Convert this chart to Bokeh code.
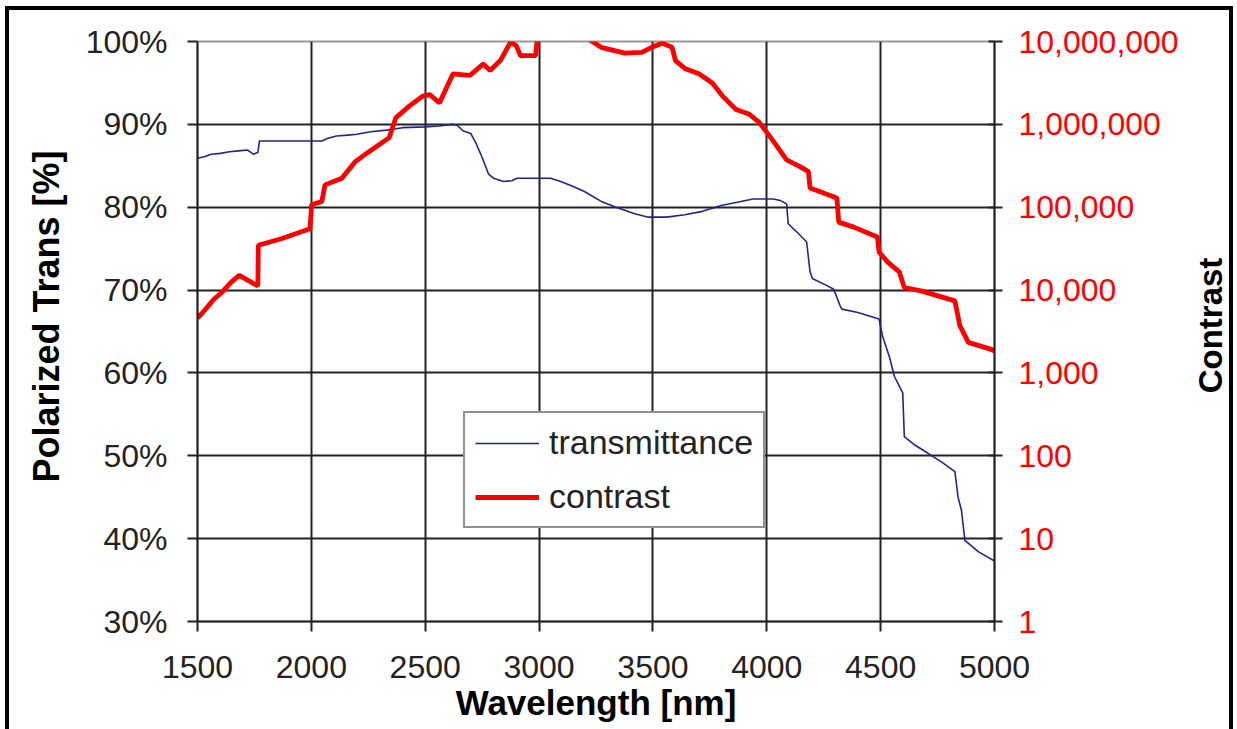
import math
from bokeh.plotting import figure
from bokeh.models import (Range1d, LogScale, LogAxis, FixedTicker, PrintfTickFormatter,
                          NumeralTickFormatter, Legend, LegendItem, Label)
from bokeh.embed import file_html
from bokeh.resources import INLINE

# ---------------- data ----------------
x_ticks = [1500, 2000, 2500, 3000, 3500, 4000, 4500, 5000]
pct_ticks = [30, 40, 50, 60, 70, 80, 90, 100]
contrast_ticks = [1, 10, 100, 1000, 10000, 100000, 1000000, 10000000]

trans_nm = [1500, 1530, 1560, 1600, 1640, 1680, 1720, 1745, 1765, 1772, 1850, 1950, 2046,
            2070, 2110, 2160, 2200, 2260, 2330, 2400, 2500, 2560, 2620, 2640, 2667, 2700,
            2725, 2750, 2778, 2800, 2844, 2880, 2903, 3000, 3051, 3095, 3150, 3199, 3273,
            3347, 3420, 3480, 3560, 3640, 3717, 3800, 3870, 3939, 4028, 4060, 4087, 4094,
            4140, 4175, 4190, 4200, 4260, 4294, 4322, 4330, 4400, 4471, 4493, 4508, 4540,
            4560, 4597, 4604, 4650, 4708, 4770, 4826, 4840, 4855, 4870, 4930, 5000]
trans_pct = [85.9, 86.1, 86.4, 86.5, 86.7, 86.8, 86.9, 86.4, 86.6, 88.0, 88.0, 88.0, 88.0,
             88.3, 88.6, 88.7, 88.8, 89.1, 89.3, 89.6, 89.7, 89.8, 90.0, 89.9, 89.2, 88.9,
             87.6, 86.0, 84.0, 83.5, 83.1, 83.2, 83.5, 83.5, 83.5, 83.1, 82.5, 81.9, 80.7,
             79.9, 79.2, 78.8, 78.8, 79.1, 79.5, 80.2, 80.6, 81.0, 81.0, 80.8, 80.4, 78.0,
             76.8, 75.8, 72.2, 71.4, 70.6, 70.1, 68.1, 67.7, 67.3, 66.7, 66.5, 64.5, 61.8,
             59.6, 57.6, 52.3, 51.3, 50.3, 49.2, 48.1, 45.0, 43.4, 39.8, 38.4, 37.3]

contrast_nm = [1500, 1520, 1572, 1610, 1646, 1683, 1720, 1765, 1767, 1868, 1994, 2001, 2046,
               2060, 2134, 2193, 2253, 2342, 2371, 2430, 2489, 2520, 2563, 2622, 2696, 2755,
               2785, 2830, 2874, 2900, 2918, 2985, 2991, 3020, 3100, 3200, 3229, 3273, 3377,
               3451, 3495, 3540, 3584, 3599, 3643, 3702, 3761, 3806, 3865, 3924, 3968, 4028,
               4087, 4146, 4183, 4190, 4308, 4316, 4382, 4486, 4493, 4530, 4582, 4604, 4678,
               4826, 4848, 4885, 4989, 5000]
contrast_val = [4600, 5250, 7760, 9550, 12300, 15100, 13200, 11200, 34700, 41700, 55000,
                107000, 117000, 186000, 224000, 355000, 468000, 692000, 1200000, 1660000,
                2190000, 2290000, 1820000, 4070000, 3890000, 5370000, 4470000, 5890000,
                9770000, 8910000, 6760000, 6760000, 10000000, 12000000, 13200000, 11500000,
                10200000, 8510000, 7240000, 7410000, 8510000, 9550000, 8510000, 5890000,
                4680000, 4070000, 3160000, 2190000, 1510000, 1320000, 1050000, 631000,
                372000, 309000, 269000, 170000, 129000, 66100, 57500, 43700, 28800, 21900,
                16600, 10700, 9770, 7410, 3720, 2340, 1910, 1820]

x_title = "Wavelength [nm]"
left_title = "Polarized Trans [%]"
right_title = "Contrast"

FONT = "Liberation Sans"
INK = "#222222"
NBSP = "\u00a0"

p = figure(width=1228, height=723, x_range=Range1d(1500, 5000), y_range=Range1d(30, 100),
           output_backend="svg", toolbar_location=None,
           min_border_left=188, min_border_right=243, min_border_top=31, min_border_bottom=112)
p.extra_y_ranges = {"contrast": Range1d(1, 1e7)}
p.extra_y_scales = {"contrast": LogScale()}

p.styles = {"border-left": "4px solid black", "border-top": "4px solid black",
            "border-right": "4px solid black", "margin-left": "5px", "margin-top": "6px"}

p.outline_line_color = "#999999"
p.outline_line_width = 2
p.background_fill_color = "white"
p.border_fill_color = "white"

# grids
p.xgrid.ticker = FixedTicker(ticks=x_ticks)
p.ygrid.ticker = FixedTicker(ticks=pct_ticks)
for g in (p.xgrid, p.ygrid):
    g.grid_line_color = INK
    g.grid_line_width = 2

# x axis
xa = p.xaxis[0]
xa.ticker = FixedTicker(ticks=x_ticks)
xa.axis_label = x_title
# left axis
ya = p.yaxis[0]
ya.ticker = FixedTicker(ticks=pct_ticks)
ya.formatter = PrintfTickFormatter(format="%d%%")
# leading no-break spaces nudge the centred title slightly upward, as in the reference
ya.axis_label = NBSP * 3 + left_title

# right axis (ticks only; its title is a rotated label below)
ra = LogAxis(y_range_name="contrast", ticker=FixedTicker(ticks=contrast_ticks),
             formatter=NumeralTickFormatter(format="0,0"))
p.add_layout(ra, "right")

for ax in (xa, ya, ra):
    ax.axis_line_color = INK
    ax.axis_line_width = 2
    ax.major_tick_line_color = INK
    ax.major_tick_line_width = 2
    ax.major_tick_out = 10
    ax.major_tick_in = 0
    ax.minor_tick_line_color = None
    ax.major_label_text_font = FONT
    ax.major_label_text_font_size = "32px"
    ax.major_label_text_color = INK
    ax.axis_label_text_font = FONT
    ax.axis_label_text_font_size = "35px"
    ax.axis_label_text_font_style = "bold"
    ax.axis_label_text_color = "black"

xa.major_label_standoff = 24
xa.axis_label_standoff = 2
ya.major_label_standoff = 20
ya.axis_label_standoff = 16
ya.axis_label_text_font_size = "36px"
ra.major_tick_out = 8
ra.major_tick_in = 6
ra.major_label_standoff = 16
ra.major_label_text_color = "#ff0000"

contrast_title = Label(x=1197, y=311, x_units="canvas", y_units="canvas", text=right_title,
                       angle=math.pi / 2, text_align="center", text_baseline="middle",
                       text_font=FONT, text_font_size="33px", text_font_style="bold",
                       text_color="black")
p.add_layout(contrast_title, "right")

blue = p.line(trans_nm, trans_pct, line_color="#23238f", line_width=1.6)
red = p.line(contrast_nm, contrast_val, y_range_name="contrast", line_color="#ff0000",
             line_width=4.8)

legend = Legend(items=[LegendItem(label="transmittance", renderers=[blue]),
                       LegendItem(label="contrast", renderers=[red])],
                location=(266, 93), orientation="vertical")
legend.border_line_color = INK
legend.border_line_width = 2
legend.background_fill_color = "white"
legend.background_fill_alpha = 1.0
legend.label_text_font = FONT
legend.label_text_font_size = "34px"
legend.label_text_color = INK
legend.glyph_width = 64
legend.glyph_height = 36
legend.label_height = 36
legend.spacing = 15
legend.padding = 10
legend.margin = 0
legend.label_standoff = 10
p.add_layout(legend, "center")

open("out.html", "w").write(file_html(p, INLINE))
